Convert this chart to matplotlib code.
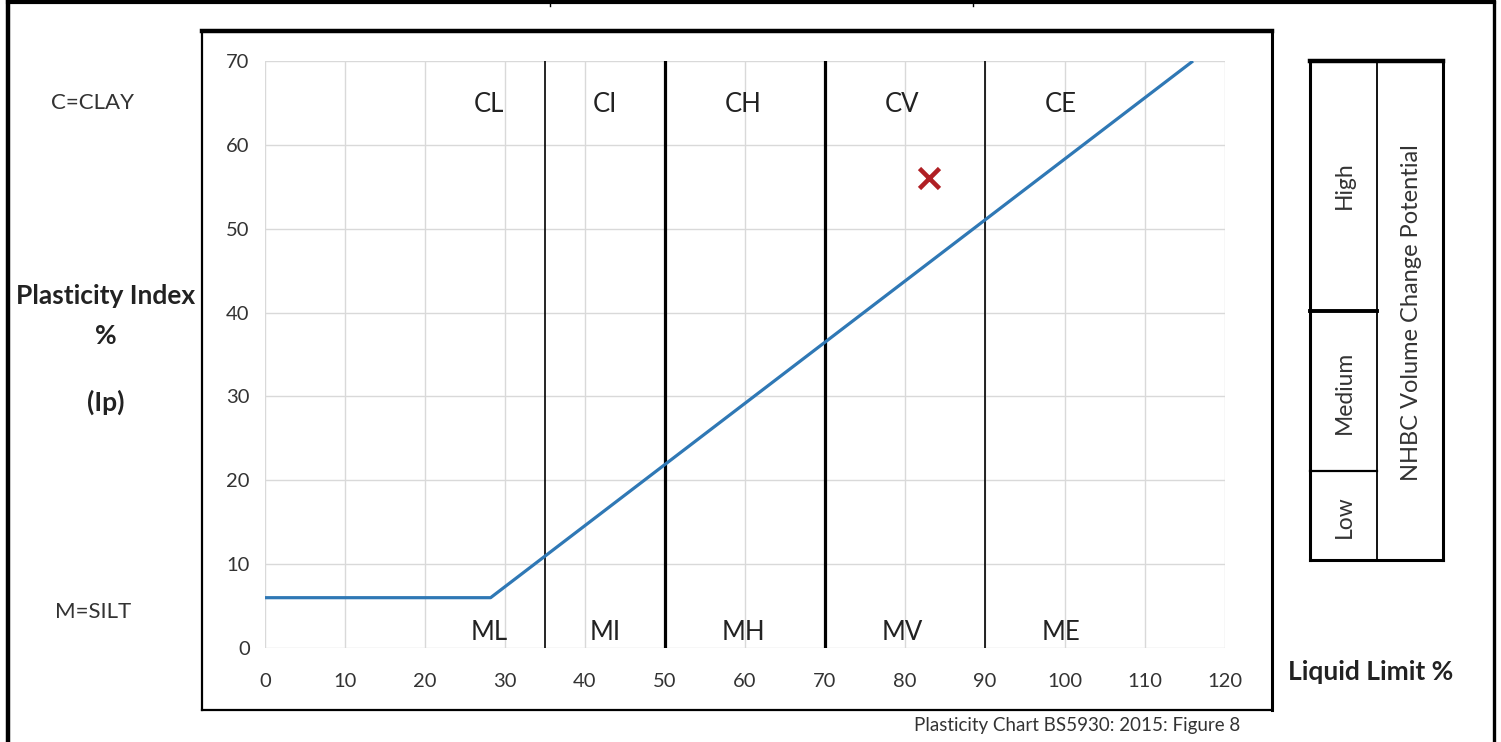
import numpy as np
import matplotlib
matplotlib.use('Agg')
import matplotlib.pyplot as plt
from matplotlib.lines import Line2D

plt.rcParams['font.family'] = ['Lato', 'DejaVu Sans']

# data
a_line_ll = [0, 28.2, 116]
a_line_pi = [6, 6, 70]
zone_bounds = [35, 50, 70, 90]
zone_lw = [1.2, 2.3, 2.3, 1.2]
clay_labels = ['CL', 'CI', 'CH', 'CV', 'CE']
silt_labels = ['ML', 'MI', 'MH', 'MV', 'ME']
label_ll = [28, 42.5, 59.8, 79.6, 99.5]
sample_ll = [83]
sample_pi = [56]
volume_levels = ['Low', 'Medium', 'High']

W, H = 1501, 742
fig = plt.figure(figsize=(W / 100, H / 100), dpi=100)
fig.patch.set_facecolor('white')


def fx(px):
    return px / W


def fy(py):
    return 1 - py / H


def fline(x0, y0, x1, y1, lw=1.5, color='black'):
    fig.add_artist(Line2D([fx(x0), fx(x1)], [fy(y0), fy(y1)], lw=lw,
                          color=color, transform=fig.transFigure,
                          solid_capstyle='projecting'))


# plot area
ax = fig.add_axes([fx(265), fy(648), fx(1225) - fx(265), fy(61) - fy(648)])
ax.set_xlim(0, 120)
ax.set_ylim(0, 70)
ax.set_xticks(np.arange(0, 121, 10))
ax.set_yticks(np.arange(0, 71, 10))
for s in ax.spines.values():
    s.set_visible(False)
ax.grid(True, color='#d9d9d9', lw=1)
ax.set_axisbelow(True)
ax.tick_params(length=0, labelsize=14.5, labelcolor='#333333')
ax.tick_params(axis='x', pad=18)
ax.tick_params(axis='y', pad=11)

for b, lw in zip(zone_bounds, zone_lw):
    ax.plot([b, b], [0, 70], color='black', lw=lw, zorder=3)

ax.plot(a_line_ll, a_line_pi, color='#2F78B5', lw=2.3, zorder=4,
        solid_capstyle='butt')
ax.plot(sample_ll, sample_pi, 'x', color='#B01F24', ms=14, mew=3.3, zorder=5)

for lab, x in zip(clay_labels, label_ll):
    ax.text(x, 64.8, lab, ha='center', va='center', fontsize=18.5,
            color='#222222')
for lab, x in zip(silt_labels, label_ll):
    ax.text(x, 1.9, lab, ha='center', va='center', fontsize=18.5,
            color='#222222')

# chart frame
fline(202, 31, 1272, 31, lw=3.2)
fline(202, 31, 202, 710, lw=1.6)
fline(1272, 31, 1272, 710, lw=2.2)
fline(202, 710, 1272, 710, lw=1.6)

# outer frame
fline(8, 2, 1494, 2, lw=3)
fline(8, 2, 8, 742, lw=3.2)
fline(1494, 2, 1494, 742, lw=2.4)
fline(550, 0, 550, 6, lw=1)
fline(973, 0, 973, 6, lw=1)

# left side labels
fig.text(fx(92), fy(103), 'C=CLAY', ha='center', va='center', fontsize=16,
         color='#333333')
fig.text(fx(93), fy(612), 'M=SILT', ha='center', va='center', fontsize=16,
         color='#333333')
fig.text(fx(106), fy(296), 'Plasticity Index', ha='center', va='center',
         fontsize=19, fontweight='bold', color='#222222')
fig.text(fx(106), fy(336), '%', ha='center', va='center',
         fontsize=19, fontweight='bold', color='#222222')
fig.text(fx(106), fy(402), '(Ip)', ha='center', va='center',
         fontsize=19, fontweight='bold', color='#222222')
fig.text(fx(1371), fy(672), 'Liquid Limit %', ha='center', va='center',
         fontsize=19, fontweight='bold', color='#222222')
fig.text(fx(1077), fy(725), 'Plasticity Chart BS5930: 2015: Figure 8',
         ha='center', va='center', fontsize=13.5, color='#333333')

# volume change table
tl, tm, tr, tt, tb = 1310, 1377, 1443, 61, 560
fline(tl, tt, tr, tt, lw=3.2)
fline(tl, tt, tl, tb, lw=2.2)
fline(tr, tt, tr, tb, lw=2.2)
fline(tl, tb, tr, tb, lw=2.2)
fline(tm, tt, tm, tb, lw=1.3)
fline(tl, 311, tm, 311, lw=2.8)
fline(tl, 471, tm, 471, lw=1.6)
level_y = [517, 392, 185]
for lab, yy in zip(volume_levels, level_y):
    fig.text(fx(1344), fy(yy), lab, ha='center', va='center', rotation=90,
             fontsize=16.5, color='#333333')
fig.text(fx(1411), fy(313), 'NHBC Volume Change Potential', ha='center',
         va='center', rotation=90, fontsize=17, color='#333333')

fig.savefig('out.png', dpi=100, facecolor='white')
